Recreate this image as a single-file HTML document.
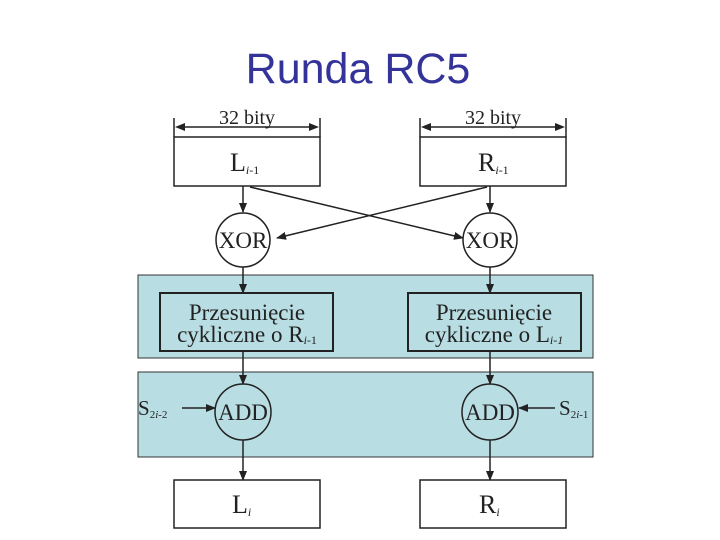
<!DOCTYPE html>
<html><head><style>
html,body{margin:0;padding:0;background:#fff;width:720px;height:540px;overflow:hidden}
</style></head><body>
<svg width="720" height="540" xmlns="http://www.w3.org/2000/svg">
<defs><marker id="a" markerWidth="10" markerHeight="8" refX="9" refY="4" orient="auto" markerUnits="userSpaceOnUse"><path d="M0,0 L10,4 L0,8 z" fill="#222"/></marker></defs>
<text x="358" y="83" text-anchor="middle" font-family="Liberation Sans, sans-serif" font-size="43" fill="#333399">Runda RC5</text>
<g font-family="Liberation Serif, serif" fill="#222">
<rect x="138" y="275" width="455" height="83" fill="#b8dde3" stroke="#333" stroke-width="1"/>
<rect x="138" y="372" width="455" height="85" fill="#b8dde3" stroke="#333" stroke-width="1"/>
<g stroke="#222" stroke-width="1.5" fill="none">
<line x1="174" y1="118" x2="174" y2="137"/><line x1="320" y1="118" x2="320" y2="137"/>
<line x1="420" y1="118" x2="420" y2="137"/><line x1="566" y1="118" x2="566" y2="137"/>
<line x1="184" y1="127" x2="310" y2="127"/><line x1="430" y1="127" x2="556" y2="127"/>
<path d="M175,127 l10,-4 v8z M319,127 l-10,-4 v8z M421,127 l10,-4 v8z M565,127 l-10,-4 v8z" fill="#222" stroke="none"/>
<rect x="174" y="137" width="146" height="49" fill="#fff"/>
<rect x="420" y="137" width="146" height="49" fill="#fff"/>
<rect x="174" y="480" width="146" height="48" fill="#fff"/>
<rect x="420" y="480" width="146" height="48" fill="#fff"/>
<rect x="160" y="293" width="173" height="58" stroke-width="2"/>
<rect x="408" y="293" width="173" height="58" stroke-width="2"/>
<circle cx="243" cy="240" r="27" fill="#fff"/>
<circle cx="490" cy="240" r="27" fill="#fff"/>
<circle cx="243" cy="412" r="28"/>
<circle cx="490" cy="412" r="28"/>
<g marker-end="url(#a)">
<line x1="243" y1="186" x2="243" y2="212"/><line x1="490" y1="186" x2="490" y2="212"/>
<line x1="250" y1="187" x2="463" y2="238"/><line x1="487" y1="187" x2="277" y2="238"/>
<line x1="243" y1="267" x2="243" y2="293"/><line x1="490" y1="267" x2="490" y2="293"/>
<line x1="243" y1="351" x2="243" y2="384"/><line x1="490" y1="351" x2="490" y2="384"/>
<line x1="243" y1="440" x2="243" y2="480"/><line x1="490" y1="440" x2="490" y2="480"/>
<line x1="182" y1="408" x2="215" y2="408"/><line x1="555" y1="408" x2="519" y2="408"/>
</g></g>
<g font-size="23">
<text x="247" y="124" text-anchor="middle" font-size="20">32 bity</text>
<text x="493" y="124" text-anchor="middle" font-size="20">32 bity</text>
<text x="230" y="171" font-size="26">L<tspan font-size="12" dy="3"><tspan font-style="italic">i</tspan>-1</tspan></text>
<text x="478" y="171" font-size="26">R<tspan font-size="12" dy="3"><tspan font-style="italic">i</tspan>-1</tspan></text>
<text x="243" y="248" text-anchor="middle">XOR</text>
<text x="490" y="248" text-anchor="middle">XOR</text>
<text x="247" y="320" text-anchor="middle" font-size="23">Przesunięcie</text>
<text x="247" y="342" text-anchor="middle" font-size="23">cykliczne o R<tspan font-size="12" dy="2"><tspan font-style="italic">i</tspan>-1</tspan></text>
<text x="494" y="320" text-anchor="middle" font-size="23">Przesunięcie</text>
<text x="494" y="342" text-anchor="middle" font-size="23">cykliczne o L<tspan font-size="12" dy="2" font-style="italic">i-1</tspan></text>
<text x="243" y="420" text-anchor="middle">ADD</text>
<text x="490" y="420" text-anchor="middle">ADD</text>
<text x="138" y="415" font-size="21">S<tspan font-size="11" dy="3">2<tspan font-style="italic">i</tspan>-2</tspan></text>
<text x="559" y="415" font-size="21">S<tspan font-size="11" dy="3">2<tspan font-style="italic">i</tspan>-1</tspan></text>
<text x="232" y="513" font-size="26">L<tspan font-size="12" dy="3" font-style="italic">i</tspan></text>
<text x="479" y="513" font-size="26">R<tspan font-size="12" dy="3" font-style="italic">i</tspan></text>
</g></g>
</svg>
</body></html>
